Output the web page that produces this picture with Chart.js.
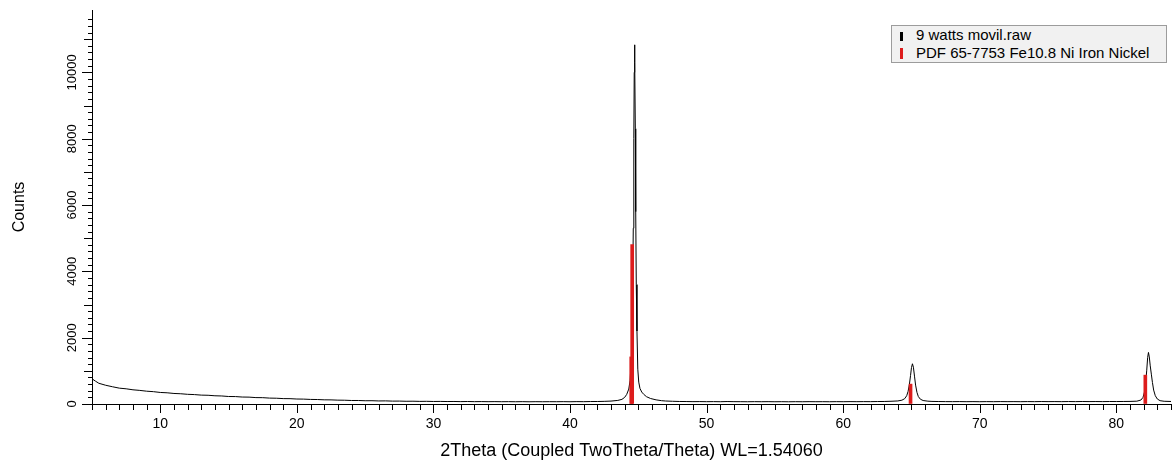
<!DOCTYPE html>
<html lang="en">
<head>
  <meta charset="UTF-8">
  <title>XRD 9 watts movil</title>
  <script src="https://cdn.jsdelivr.net/npm/chart.js"></script>
  <style>
    html, body {
      margin: 0;
      overflow: hidden;
      background: white;
      font-family: Arial, "Liberation Sans", sans-serif;
    }

    #wrap {
      position: relative;
      width: 1172px;
      height: 463px;
    }

    canvas { display: block; }

    /* legend box, top right */
    #legend {
      position: absolute;
      left: 891px;
      top: 25px;
      width: 274px;
      height: 36px;
      background: #f1f1f1;
      border: 1px solid #9c9c9c;
      font-size: 15px;
      color: #000;
    }
    .row {
      position: absolute;
      left: 8px;
      white-space: nowrap;
    }
    .mark {
      display: inline-block;
      width: 3px;
      height: 9px;
      margin-right: 13px;
      vertical-align: -1px;
    }
  </style>
</head>
<body>

<div id="wrap">
  <canvas id="xrd" width="1172" height="463"></canvas>
  <div id="legend">
    <div class="row" style="top: 0px;"><span class="mark" style="background:#000;"></span>9 watts movil.raw</div>
    <div class="row" style="top: 18px;"><span class="mark" style="background:#dd1c1c; height:11px;"></span>PDF 65-7753 Fe10.8 Ni Iron Nickel</div>
  </div>
</div>

<script>
  // measured scan (2theta, counts)
  const scanAngle = [
    5.0, 5.25, 5.5, 6.0, 6.5, 7.0, 7.5, 8.0, 8.5, 9.0,
    9.5, 10.0, 10.5, 11.0, 11.5, 12.0, 12.5, 13.0, 13.5, 14.0,
    14.5, 15.0, 15.5, 16.0, 16.5, 17.0, 17.5, 18.0, 18.5, 19.0,
    19.5, 20.0, 20.5, 21.0, 21.5, 22.0, 22.5, 23.0, 23.5, 24.0,
    24.5, 25.0, 25.5, 26.0, 26.5, 27.0, 27.5, 28.0, 28.5, 29.0,
    29.5, 30.0, 30.5, 31.0, 31.5, 32.0, 32.5, 33.0, 33.5, 34.0,
    34.5, 35.0, 35.5, 36.0, 36.5, 37.0, 37.5, 38.0, 38.5, 39.0,
    39.5, 40.0, 40.5, 41.0, 41.5, 42.0, 42.5, 43.0, 43.5, 43.8,
    44.0, 44.15, 44.3, 44.4, 44.47, 44.53, 44.58, 44.63, 44.67, 44.70,
    44.72, 44.75, 44.78, 44.81, 44.85, 44.90, 44.96, 45.03, 45.12, 45.25,
    45.4, 45.6, 45.9, 46.3, 46.7, 47.0, 47.5, 48.0, 48.5, 49.0,
    49.5, 50.0, 50.5, 51.0, 51.5, 52.0, 52.5, 53.0, 53.5, 54.0,
    54.5, 55.0, 55.5, 56.0, 56.5, 57.0, 57.5, 58.0, 58.5, 59.0,
    59.5, 60.0, 60.5, 61.0, 61.5, 62.0, 62.5, 63.0, 63.5, 64.0,
    64.3, 64.5, 64.65, 64.75, 64.85, 64.93, 65.0, 65.07, 65.14, 65.22,
    65.3, 65.4, 65.5, 65.65, 65.85, 66.2, 66.5, 67.0, 67.5, 68.0,
    68.5, 69.0, 69.5, 70.0, 70.5, 71.0, 71.5, 72.0, 72.5, 73.0,
    73.5, 74.0, 74.5, 75.0, 75.5, 76.0, 76.5, 77.0, 77.5, 78.0,
    78.5, 79.0, 79.5, 80.0, 80.5, 81.0, 81.5, 81.8, 81.95, 82.05,
    82.15, 82.22, 82.29, 82.35, 82.41, 82.48, 82.56, 82.64, 82.73, 82.85,
    83.0, 83.2, 83.5, 84.0
  ];
  const scanCounts = [
    760, 690, 625, 565, 520, 478, 458, 428, 410, 386,
    372, 348, 338, 318, 309, 292, 284, 268, 263, 248,
    242, 226, 224, 210, 207, 193, 191, 178, 174, 163,
    161, 150, 147, 138, 135, 126, 124, 116, 114, 106,
    106, 98, 99, 92, 94, 87, 88, 82, 84, 79,
    81, 76, 78, 74, 76, 72, 75, 71, 73, 70,
    72, 69, 71, 68, 71, 67, 70, 68, 70, 69,
    71, 68, 72, 70, 74, 75, 80, 88, 108, 140,
    200, 290, 450, 720, 1250, 2100, 3200, 5300, 8000, 10000,
    10830, 10300, 8300, 5800, 3600, 2200, 1050, 660, 470, 360,
    290, 220, 165, 125, 100, 90, 82, 76, 74, 71,
    73, 70, 72, 69, 74, 71, 70, 68, 71, 69,
    71, 68, 70, 67, 70, 68, 71, 69, 70, 68,
    71, 69, 72, 70, 72, 71, 74, 76, 82, 92,
    115, 160, 250, 380, 600, 860, 1100, 1213, 1110, 840,
    570, 350, 225, 145, 105, 85, 78, 74, 72, 71,
    73, 70, 72, 69, 72, 70, 73, 71, 72, 70,
    73, 71, 74, 72, 73, 71, 74, 72, 75, 73,
    74, 72, 75, 74, 76, 78, 85, 120, 200, 350,
    650, 1000, 1400, 1555, 1420, 1150, 900, 650, 420, 250,
    150, 100, 82, 76
  ];

  // PDF 65-7753 reference sticks
  const refAngle = [44.48, 44.55, 64.93, 82.12];
  const refCounts = [1420, 4810, 600, 870];

  const fontFam = 'Arial, "Liberation Sans", sans-serif';

  // tick marks (long / short) and rotated y labels
  const tickMarks = {
    id: 'tickMarks',
    afterDraw(chart) {
      const { ctx, chartArea, scales: { x, y } } = chart;
      ctx.save();
      ctx.strokeStyle = '#000';
      ctx.lineWidth = 1;
      ctx.beginPath();
      x.ticks.forEach(t => {
        const px = Math.round(x.getPixelForValue(t.value)) + 0.5;
        const len = t.value % 10 === 0 ? 9 : 6;
        ctx.moveTo(px, chartArea.bottom);
        ctx.lineTo(px, chartArea.bottom + len);
      });
      y.ticks.forEach(t => {
        if (t.value % 200 !== 0) return;
        const py = Math.round(y.getPixelForValue(t.value)) + 0.5;
        const len = t.value % 2000 === 0 ? 10 : (t.value % 1000 === 0 ? 8 : 4);
        ctx.moveTo(chartArea.left, py);
        ctx.lineTo(chartArea.left - len, py);
      });
      ctx.stroke();

      ctx.fillStyle = '#000';
      ctx.font = '13px ' + fontFam;
      ctx.textAlign = 'center';
      ctx.textBaseline = 'middle';
      y.ticks.forEach(t => {
        if (t.value % 2000 !== 0) return;
        ctx.save();
        ctx.translate(72, y.getPixelForValue(t.value));
        ctx.rotate(-Math.PI / 2);
        ctx.fillText(String(t.value), 0, 0);
        ctx.restore();
      });
      ctx.restore();
    }
  };

  new Chart(document.getElementById('xrd'), {
    type: 'line',
    data: {
      datasets: [
        {
          type: 'bar',
          label: 'PDF 65-7753 Fe10.8 Ni Iron Nickel',
          data: refAngle.map((a, i) => ({ x: a, y: refCounts[i] })),
          backgroundColor: '#dd1c1c',
          barThickness: 3,
          order: 0
        },
        {
          label: '9 watts movil.raw',
          data: scanAngle.map((a, i) => ({ x: a, y: scanCounts[i] })),
          borderColor: '#000',
          borderWidth: 1,
          pointRadius: 0,
          tension: 0,
          order: 1
        }
      ]
    },
    options: {
      responsive: false,
      animation: false,
      layout: { padding: { top: 10, right: 1, left: 0, bottom: 0 } },
      plugins: {
        legend: { display: false },
        tooltip: { enabled: false }
      },
      scales: {
        x: {
          type: 'linear',
          min: 5,
          max: 84,
          offset: false,
          border: { display: true, color: '#000', width: 1 },
          // real tick marks are drawn by tickMarks; this only spaces the labels
          grid: { display: true, drawOnChartArea: false, drawTicks: true, tickLength: 12, tickColor: 'rgba(0,0,0,0)' },
          ticks: {
            stepSize: 1,
            autoSkip: false,
            maxRotation: 0,
            padding: 0,
            color: '#000',
            font: { family: fontFam, size: 14 },
            callback: v => (v % 10 === 0 ? v : '')
          },
          title: {
            display: true,
            text: '2Theta (Coupled TwoTheta/Theta) WL=1.54060',
            color: '#000',
            font: { family: fontFam, size: 18 },
            padding: { top: 0, bottom: 1 }
          },
          afterFit: s => { s.height = 59; }
        },
        y: {
          min: 0,
          max: 11880,
          border: { display: true, color: '#000', width: 1 },
          grid: { display: true, drawOnChartArea: false, drawTicks: false },
          ticks: {
            stepSize: 200,
            autoSkip: false,
            display: false
          },
          title: {
            display: true,
            text: 'Counts',
            color: '#000',
            font: { family: fontFam, size: 16 },
            padding: { top: 10, bottom: 0 }
          },
          afterFit: s => { s.width = 92; }
        }
      }
    },
    plugins: [tickMarks]
  });
</script>

</body>
</html>
